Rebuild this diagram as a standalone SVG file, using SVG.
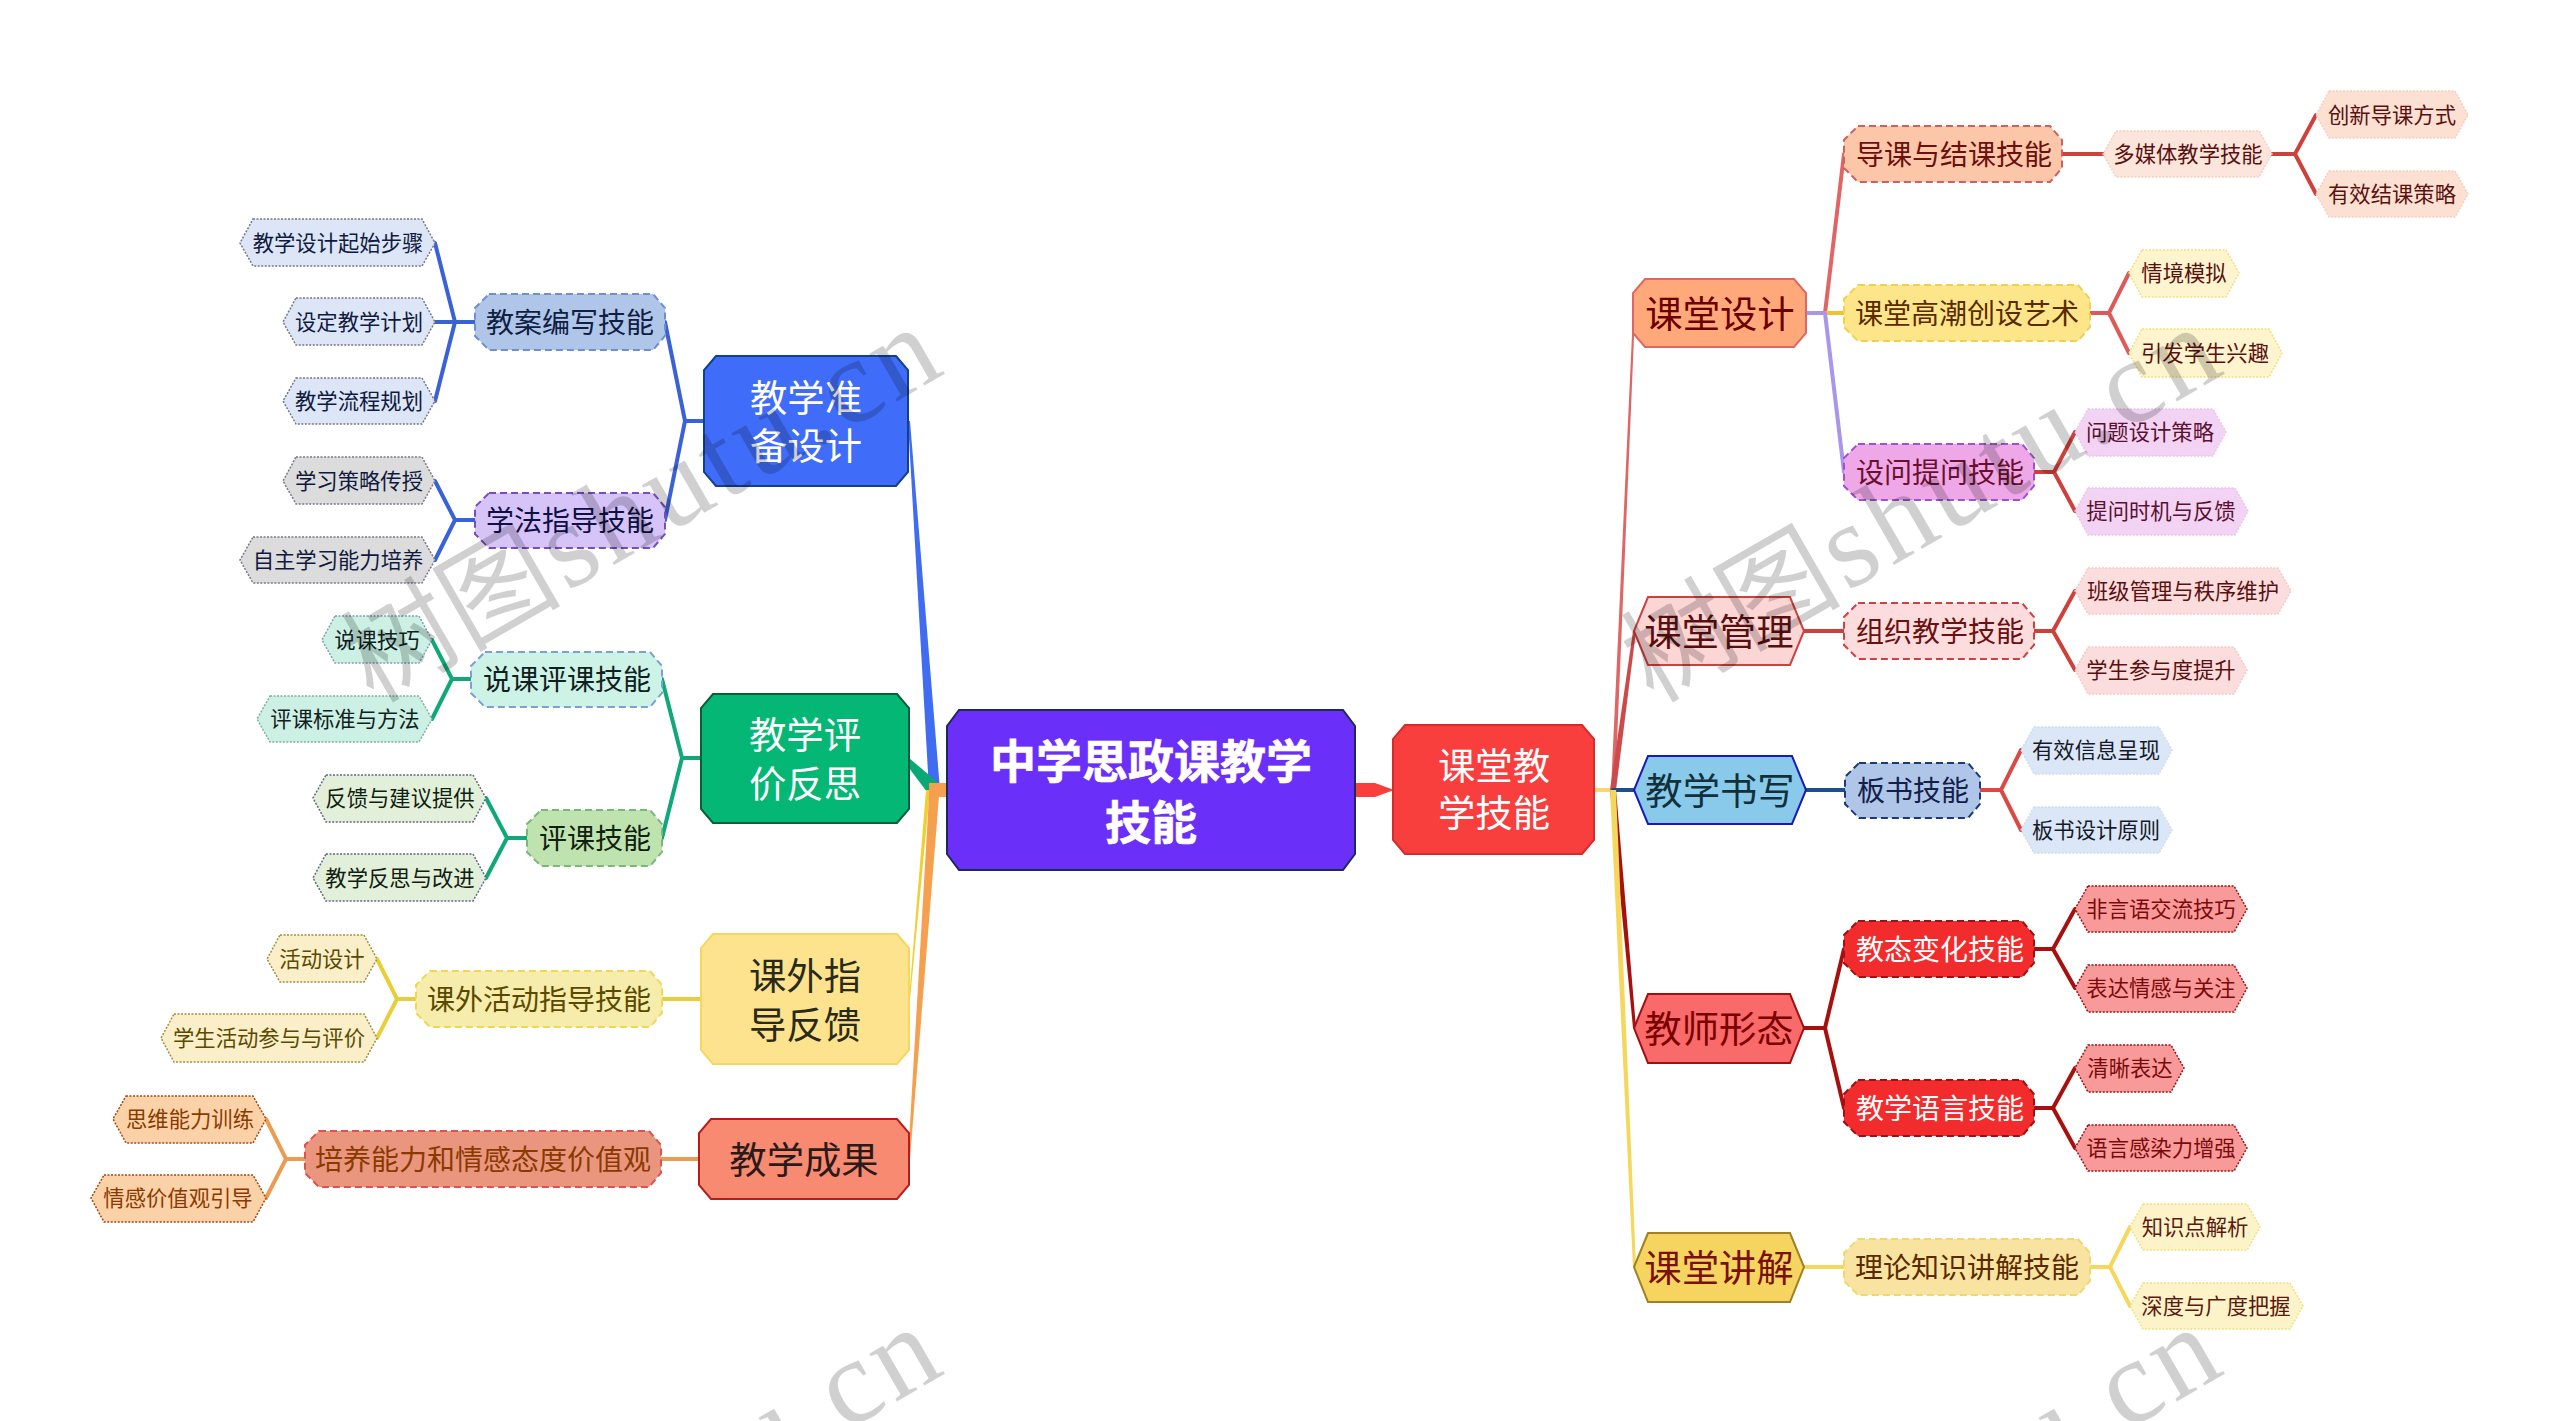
<svg xmlns="http://www.w3.org/2000/svg" width="2560" height="1421" viewBox="0 0 2560 1421">
<style>
text{font-family:"Noto Sans CJK SC","Noto Sans",sans-serif;text-anchor:middle;dominant-baseline:central}
text:not(.wm){transform:translateY(-1.5px)}
.c{fill:none;stroke-width:4;stroke-linecap:round}
.r{font-size:46px;font-weight:700;fill:#fff;stroke:#fff;stroke-width:.6}
.a{font-size:37.33px}
.b{font-size:28px}
.d{font-size:21.33px}
.s1{stroke-width:2}
.s2{stroke-width:2;stroke-dasharray:7 4}
.s3{stroke-width:1.5;stroke-dasharray:2 1.5}
text.wm{font-family:"Liberation Serif","Noto Sans CJK SC",serif;font-size:120px;fill:#000;opacity:.18;text-anchor:start;dominant-baseline:alphabetic}
.wc{font-size:110px}
.wg{font-size:16px}
.wl{letter-spacing:5px}
</style>
<rect width="2560" height="1421" fill="#fff"/>
<g id="connectors">
<polygon points="908,421 910,421 940,790 929,790" fill="#3f6cf0"/>
<polygon points="909,758 909,768 930,796 941,785" fill="#0aa874"/>
<polygon points="909,999 909,1010 930,790 926,790" fill="#f0d030"/>
<polygon points="908,1159 910,1159 939,796 929,796" fill="#f5a04e"/>
<rect x="929" y="783" width="18" height="14" fill="#f5a04e"/>
<polygon points="1355,783 1375,783 1394,790 1375,797 1355,797" fill="#f93e3e"/>
<path class="c" stroke="#f5d76e" d="M1594 790H1613"/>
<polygon points="1611,790 1615,790 1635,313 1633,313" fill="#e06666"/>
<polygon points="1610,790 1616,790 1636,631 1633,631" fill="#cc4a4a"/>
<path class="c" stroke="#1f4e8c" d="M1613 790H1634"/>
<polygon points="1610,790 1616,790 1636,1028 1633,1028" fill="#a81010"/>
<polygon points="1610,790 1616,790 1636,1267 1633,1267" fill="#f5d75c"/>
<path class="c" stroke="#a996ea" d="M1806 313H1825"/>
<path class="c" stroke="#e06666" d="M1825 313L1844 154"/>
<path class="c" stroke="#f2c12e" d="M1825 313H1844"/>
<path class="c" stroke="#a996ea" d="M1825 313L1844 472"/>
<path class="c" stroke="#d0403a" d="M2062 154H2103M2272 154H2295L2316 115M2295 154L2316 194"/>
<path class="c" stroke="#dc5a5a" d="M2090 313H2109L2129 273M2109 313L2129 353"/>
<path class="c" stroke="#d0403a" d="M2034 472H2054L2075 432M2054 472L2075 511"/>
<path class="c" stroke="#d0403a" d="M1804 631H1844M2034 631H2053L2075 591M2053 631L2075 670"/>
<path class="c" stroke="#1f4e8c" d="M1806 790H1845"/>
<path class="c" stroke="#d94a44" d="M1980 790H2001L2021 750M2001 790L2021 830"/>
<path class="c" stroke="#a81010" d="M1804 1028H1825L1844 949M1825 1028L1844 1108M2034 949H2053L2075 909M2053 949L2075 988M2034 1108H2053L2075 1068M2053 1108L2075 1148"/>
<path class="c" stroke="#f5d75c" d="M1804 1267H1844M2090 1267H2110L2130 1227M2110 1267L2130 1306"/>
<path class="c" stroke="#3a62d8" d="M704 421H685L665 322M685 421L665 520M475 322H455L435 243M455 322H435M455 322L435 401M475 520H455L435 481M455 520L435 560"/>
<path class="c" stroke="#0fa878" d="M701 758H682L662 679M682 758L662 838M471 679H452L432 640M452 679L432 719M527 838H507L486 798M507 838L486 878"/>
<path class="c" stroke="#e8cf3a" d="M701 999H662M416 999H397L377 959M397 999L377 1038"/>
<path class="c" stroke="#ec9c50" d="M699 1159H661M305 1159H286L266 1119M286 1159L266 1198"/>
</g>
<g id="root"><polygon class="s1" fill="#6a2ff9" stroke="#1c2a5a" points="959,710 1343,710 1355,726 1355,854 1343,870 959,870 947,854 947,726"/><text class="r" x="1151" y="759">中学思政课教学</text><text class="r" x="1151" y="820">技能</text></g>
<g id="n-ketang"><polygon class="s1" fill="#f93e3e" stroke="#d62b2b" points="1405,725 1582,725 1594,739 1594,840 1582,854 1405,854 1393,840 1393,739"/><text class="a" fill="#fff" x="1494" y="765">课堂教</text><text class="a" fill="#fff" x="1494" y="812">学技能</text></g>
<g id="n-zhunbei"><polygon class="s1" fill="#3f6cf8" stroke="#12408c" points="716,356 896,356 908,370 908,472 896,486 716,486 704,472 704,370"/><text class="a" fill="#fff" x="806" y="397">教学准</text><text class="a" fill="#fff" x="806" y="445">备设计</text></g>
<g id="n-pingjia"><polygon class="s1" fill="#05b774" stroke="#065f3a" points="713,694 897,694 909,708 909,809 897,823 713,823 701,809 701,708"/><text class="a" fill="#fff" x="805" y="734">教学评</text><text class="a" fill="#fff" x="805" y="783">价反思</text></g>
<g id="n-kewai"><polygon class="s1" fill="#fde38d" stroke="#f5d760" points="713,934 897,934 909,948 909,1050 897,1064 713,1064 701,1050 701,948"/><text class="a" fill="#2a2a1a" x="805" y="975">课外指</text><text class="a" fill="#2a2a1a" x="805" y="1024">导反馈</text></g>
<g id="n-chengguo"><polygon class="s1" fill="#f78a70" stroke="#b71c1c" points="711,1119 897,1119 909,1133 909,1185 897,1199 711,1199 699,1185 699,1133"/><text class="a" fill="#2a1a1a" x="804" y="1159">教学成果</text></g>
<g id="n-sheji"><polygon class="s1" fill="#ffa97a" stroke="#e06666" points="1645,279 1794,279 1806,293 1806,333 1794,347 1645,347 1633,333 1633,293"/><text class="a" fill="#6b0000" x="1720" y="313">课堂设计</text></g>
<g id="n-guanli"><polygon class="s1" fill="#fcd5d5" stroke="#d04040" points="1648,597 1790,597 1804,631 1790,665 1648,665 1634,631"/><text class="a" fill="#5a0f0f" x="1719" y="631">课堂管理</text></g>
<g id="n-shuxie"><polygon class="s1" fill="#89c9ea" stroke="#1a1ab8" points="1648,756 1792,756 1806,790 1792,824 1648,824 1634,790"/><text class="a" fill="#12303a" x="1720" y="790">教学书写</text></g>
<g id="n-xingtai"><polygon class="s1" fill="#f96a6a" stroke="#a01010" points="1648,994 1790,994 1804,1028 1790,1063 1648,1063 1634,1028"/><text class="a" fill="#7a0000" x="1719" y="1028">教师形态</text></g>
<g id="n-jiangjie"><polygon class="s1" fill="#f5d55f" stroke="#a08020" points="1648,1233 1790,1233 1804,1267 1790,1302 1648,1302 1634,1267"/><text class="a" fill="#7a1010" x="1719" y="1267">课堂讲解</text></g>

<g id="b1"><polygon class="s2" fill="#fcc7a8" stroke="#d06060" points="1858,126 2050,126 2062,140 2062,168 2050,182 1858,182 1844,168 1844,140"/><text class="b" fill="#6b0f0f" x="1954" y="154">导课与结课技能</text></g>
<g id="b2"><polygon class="s2" fill="#fde58a" stroke="#f0d050" points="1858,285 2078,285 2090,299 2090,327 2078,341 1858,341 1844,327 1844,299"/><text class="b" fill="#5a2a00" x="1967" y="313">课堂高潮创设艺术</text></g>
<g id="b3"><polygon class="s2" fill="#eea8e8" stroke="#a050d0" points="1858,444 2022,444 2034,458 2034,486 2022,500 1858,500 1844,486 1844,458"/><text class="b" fill="#6b0f2f" x="1940" y="472">设问提问技能</text></g>
<g id="b4"><polygon class="s2" fill="#fcdcdc" stroke="#d04040" points="1858,603 2022,603 2034,617 2034,645 2022,659 1858,659 1844,645 1844,617"/><text class="b" fill="#6b0f0f" x="1940" y="631">组织教学技能</text></g>
<g id="b5"><polygon class="s2" fill="#b0c6e8" stroke="#1a3a7a" points="1859,763 1968,763 1980,777 1980,804 1968,818 1859,818 1845,804 1845,777"/><text class="b" fill="#12204a" x="1913" y="790">板书技能</text></g>
<g id="b6"><polygon class="s2" fill="#f22c2c" stroke="#a01010" points="1858,921 2022,921 2034,935 2034,963 2022,977 1858,977 1844,963 1844,935"/><text class="b" fill="#fff" x="1940" y="949">教态变化技能</text></g>
<g id="b7"><polygon class="s2" fill="#f22c2c" stroke="#a01010" points="1858,1080 2022,1080 2034,1094 2034,1122 2022,1136 1858,1136 1844,1122 1844,1094"/><text class="b" fill="#fff" x="1940" y="1108">教学语言技能</text></g>
<g id="b8"><polygon class="s2" fill="#f8e3a0" stroke="#f0d870" points="1858,1239 2078,1239 2090,1253 2090,1281 2078,1295 1858,1295 1844,1281 1844,1253"/><text class="b" fill="#5a2a00" x="1967" y="1267">理论知识讲解技能</text></g>
<g id="b9"><polygon class="s2" fill="#b0c6e8" stroke="#6f8fd0" points="489,294 653,294 665,308 665,336 653,350 489,350 475,336 475,308"/><text class="b" fill="#0f2044" x="570" y="322">教案编写技能</text></g>
<g id="b10"><polygon class="s2" fill="#d6c3f8" stroke="#7a4cc0" points="489,493 653,493 665,507 665,534 653,548 489,548 475,534 475,507"/><text class="b" fill="#0f1044" x="570" y="520">学法指导技能</text></g>
<g id="b11"><polygon class="s2" fill="#cdf2e6" stroke="#7f9fd0" points="485,652 650,652 662,666 662,693 650,707 485,707 471,693 471,666"/><text class="b" fill="#102020" x="567" y="679">说课评课技能</text></g>
<g id="b12"><polygon class="s2" fill="#bfe3ae" stroke="#7ab87a" points="541,810 650,810 662,824 662,852 650,866 541,866 527,852 527,824"/><text class="b" fill="#102010" x="595" y="838">评课技能</text></g>
<g id="b13"><polygon class="s2" fill="#f6ecab" stroke="#f0d850" points="430,971 650,971 662,985 662,1013 650,1027 430,1027 416,1013 416,985"/><text class="b" fill="#5a4a00" x="539" y="999">课外活动指导技能</text></g>
<g id="b14"><polygon class="s2" fill="#ea967f" stroke="#e05050" points="319,1131 649,1131 661,1145 661,1173 649,1187 319,1187 305,1173 305,1145"/><text class="b" fill="#8a3a00" x="483" y="1159">培养能力和情感态度价值观</text></g>

<g id="l1"><polygon class="s3" fill="#fce5da" stroke="#f5d0c0" points="2116,131 2259,131 2272,154 2259,177 2116,177 2103,154"/><text class="d" fill="#5a1010" x="2188" y="154">多媒体教学技能</text></g>
<g id="l2"><polygon class="s3" fill="#fce1d2" stroke="#f5d0c0" points="2329,91 2455,91 2468,115 2455,138 2329,138 2316,115"/><text class="d" fill="#5a1010" x="2392" y="115">创新导课方式</text></g>
<g id="l3"><polygon class="s3" fill="#fce1d2" stroke="#f5d0c0" points="2329,171 2455,171 2468,194 2455,217 2329,217 2316,194"/><text class="d" fill="#5a1010" x="2392" y="194">有效结课策略</text></g>
<g id="l4"><polygon class="s3" fill="#fef5cf" stroke="#f0e080" points="2142,250 2226,250 2239,273 2226,297 2142,297 2129,273"/><text class="d" fill="#5a1010" x="2184" y="273">情境模拟</text></g>
<g id="l5"><polygon class="s3" fill="#fef5cf" stroke="#f0e080" points="2142,329 2269,329 2282,353 2269,377 2142,377 2129,353"/><text class="d" fill="#5a1010" x="2205" y="353">引发学生兴趣</text></g>
<g id="l6"><polygon class="s3" fill="#f3d3f3" stroke="#ecc4ec" points="2088,409 2213,409 2226,432 2213,456 2088,456 2075,432"/><text class="d" fill="#5a1030" x="2150" y="432">问题设计策略</text></g>
<g id="l7"><polygon class="s3" fill="#f3d3f3" stroke="#ecc4ec" points="2088,488 2235,488 2248,511 2235,535 2088,535 2075,511"/><text class="d" fill="#5a1030" x="2161" y="511">提问时机与反馈</text></g>
<g id="l8"><polygon class="s3" fill="#fcdddd" stroke="#f5c8c8" points="2088,568 2278,568 2291,591 2278,614 2088,614 2075,591"/><text class="d" fill="#5a1010" x="2183" y="591">班级管理与秩序维护</text></g>
<g id="l9"><polygon class="s3" fill="#fcdddd" stroke="#f5c8c8" points="2088,647 2234,647 2247,670 2234,694 2088,694 2075,670"/><text class="d" fill="#5a1010" x="2161" y="670">学生参与度提升</text></g>
<g id="l10"><polygon class="s3" fill="#dbe6f6" stroke="#cfdcf0" points="2034,727 2159,727 2172,750 2159,774 2034,774 2021,750"/><text class="d" fill="#151a2a" x="2096" y="750">有效信息呈现</text></g>
<g id="l11"><polygon class="s3" fill="#dbe6f6" stroke="#cfdcf0" points="2034,807 2159,807 2172,830 2159,853 2034,853 2021,830"/><text class="d" fill="#151a2a" x="2096" y="830">板书设计原则</text></g>
<g id="l12"><polygon class="s3" fill="#f99a9a" stroke="#a01010" points="2088,886 2234,886 2247,909 2234,932 2088,932 2075,909"/><text class="d" fill="#7a0a0a" x="2161" y="909">非言语交流技巧</text></g>
<g id="l13"><polygon class="s3" fill="#f99a9a" stroke="#a01010" points="2088,965 2234,965 2247,988 2234,1012 2088,1012 2075,988"/><text class="d" fill="#7a0a0a" x="2161" y="988">表达情感与关注</text></g>
<g id="l14"><polygon class="s3" fill="#f99a9a" stroke="#a01010" points="2088,1045 2171,1045 2184,1068 2171,1092 2088,1092 2075,1068"/><text class="d" fill="#7a0a0a" x="2130" y="1068">清晰表达</text></g>
<g id="l15"><polygon class="s3" fill="#f99a9a" stroke="#a01010" points="2088,1125 2234,1125 2247,1148 2234,1171 2088,1171 2075,1148"/><text class="d" fill="#7a0a0a" x="2161" y="1148">语言感染力增强</text></g>
<g id="l16"><polygon class="s3" fill="#fdf3c8" stroke="#f0e080" points="2143,1204 2247,1204 2260,1227 2247,1250 2143,1250 2130,1227"/><text class="d" fill="#5a1a10" x="2195" y="1227">知识点解析</text></g>
<g id="l17"><polygon class="s3" fill="#fdf3c8" stroke="#f0e080" points="2143,1283 2290,1283 2303,1306 2290,1329 2143,1329 2130,1306"/><text class="d" fill="#5a1a10" x="2216" y="1306">深度与广度把握</text></g>

<g id="l18"><polygon class="s3" fill="#dce6f6" stroke="#778" points="253,219 422,219 435,243 422,266 253,266 240,243"/><text class="d" fill="#101a40" x="338" y="243">教学设计起始步骤</text></g>
<g id="l19"><polygon class="s3" fill="#dce6f6" stroke="#778" points="296,298 422,298 435,322 422,345 296,345 283,322"/><text class="d" fill="#101a40" x="359" y="322">设定教学计划</text></g>
<g id="l20"><polygon class="s3" fill="#dce6f6" stroke="#778" points="296,378 422,378 435,401 422,424 296,424 283,401"/><text class="d" fill="#101a40" x="359" y="401">教学流程规划</text></g>
<g id="l21"><polygon class="s3" fill="#dcdcdc" stroke="#778" points="296,457 422,457 435,481 422,504 296,504 283,481"/><text class="d" fill="#101a40" x="359" y="481">学习策略传授</text></g>
<g id="l22"><polygon class="s3" fill="#dcdcdc" stroke="#778" points="253,537 422,537 435,560 422,583 253,583 240,560"/><text class="d" fill="#101a40" x="338" y="560">自主学习能力培养</text></g>
<g id="l23"><polygon class="s3" fill="#ccf0e4" stroke="#7f9fb0" points="335,616 419,616 432,640 419,663 335,663 322,640"/><text class="d" fill="#102020" x="377" y="640">说课技巧</text></g>
<g id="l24"><polygon class="s3" fill="#ccf0e4" stroke="#7fb09f" points="270,696 419,696 432,719 419,742 270,742 257,719"/><text class="d" fill="#102020" x="345" y="719">评课标准与方法</text></g>
<g id="l25"><polygon class="s3" fill="#e2f0da" stroke="#668" points="326,775 473,775 486,798 473,822 326,822 313,798"/><text class="d" fill="#102010" x="400" y="798">反馈与建议提供</text></g>
<g id="l26"><polygon class="s3" fill="#e2f0da" stroke="#668" points="326,854 473,854 486,878 473,901 326,901 313,878"/><text class="d" fill="#102010" x="400" y="878">教学反思与改进</text></g>
<g id="l27"><polygon class="s3" fill="#faefc8" stroke="#a09040" points="280,935 364,935 377,959 364,982 280,982 267,959"/><text class="d" fill="#5a4a00" x="322" y="959">活动设计</text></g>
<g id="l28"><polygon class="s3" fill="#faefc8" stroke="#a09040" points="174,1014 364,1014 377,1038 364,1062 174,1062 161,1038"/><text class="d" fill="#5a4a00" x="269" y="1038">学生活动参与与评价</text></g>
<g id="l29"><polygon class="s3" fill="#fbd1a8" stroke="#a04a10" points="126,1096 253,1096 266,1119 253,1143 126,1143 113,1119"/><text class="d" fill="#8a3a00" x="190" y="1119">思维能力训练</text></g>
<g id="l30"><polygon class="s3" fill="#fbd1a8" stroke="#a04a10" points="104,1175 253,1175 266,1198 253,1222 104,1222 91,1198"/><text class="d" fill="#8a3a00" x="178" y="1198">情感价值观引导</text></g>

<g id="watermarks">
<text class="wm" transform="translate(373 704) rotate(-30)"><tspan class="wc">树图</tspan><tspan class="wg"> </tspan><tspan class="wl">shutu.cn</tspan></text>
<text class="wm" transform="translate(1653 704) rotate(-30)"><tspan class="wc">树图</tspan><tspan class="wg"> </tspan><tspan class="wl">shutu.cn</tspan></text>
<text class="wm" transform="translate(373 1704) rotate(-30)"><tspan class="wc">树图</tspan><tspan class="wg"> </tspan><tspan class="wl">shutu.cn</tspan></text>
<text class="wm" transform="translate(1653 1704) rotate(-30)"><tspan class="wc">树图</tspan><tspan class="wg"> </tspan><tspan class="wl">shutu.cn</tspan></text>
</g>
</svg>
